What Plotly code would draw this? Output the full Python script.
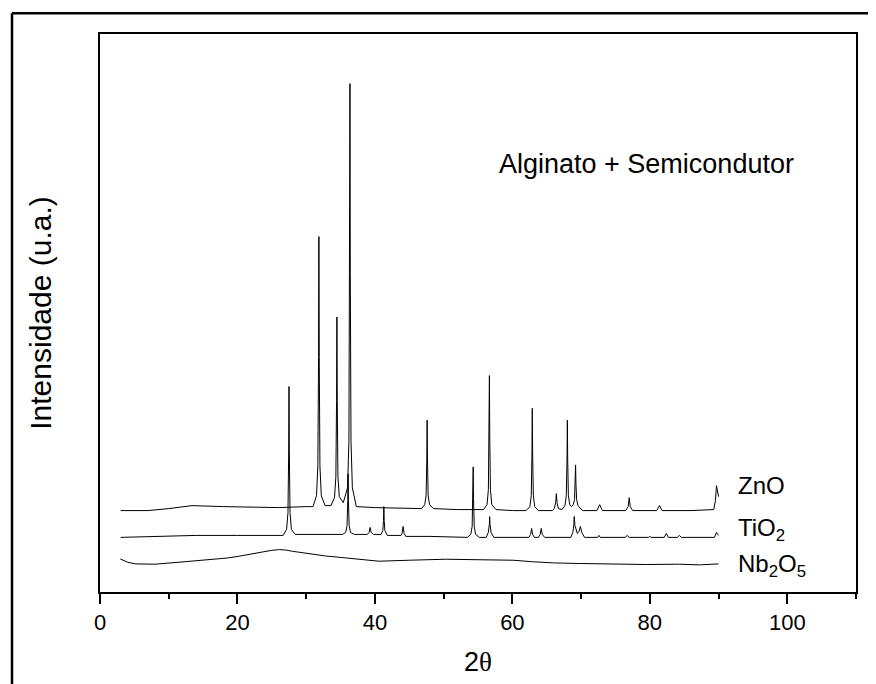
import plotly.graph_objects as go

# 2-theta (degrees) and intensity (arbitrary units)
zno_x = [3.0, 7.0, 10.0, 13.4, 18.0, 26.0, 30.0,
         31.0, 31.5, 31.7, 31.8, 31.85, 31.9, 32.0, 32.2, 32.75,
         33.6, 34.12, 34.32, 34.42, 34.47, 34.52, 34.62, 34.82, 35.4,
         36.02, 36.22, 36.32, 36.37, 36.42, 36.52, 36.72, 37.3,
         40.0, 45.0, 46.8,
         47.25, 47.45, 47.55, 47.6, 47.65, 47.75, 47.95, 48.5,
         52.0, 55.8,
         56.31, 56.51, 56.61, 56.66, 56.71, 56.81, 57.01, 57.6,
         60.0, 62.0,
         62.55, 62.75, 62.85, 62.9, 62.95, 63.05, 63.25, 63.8,
         65.8, 66.1, 66.3, 66.4, 66.5, 66.7, 67.2,
         67.65, 67.85, 67.95, 68.0, 68.05, 68.15, 68.35, 68.6,
         68.85, 69.05, 69.15, 69.2, 69.25, 69.35, 69.55, 70.2,
         72.3, 72.7, 73.1,
         76.5, 76.85, 77.0, 77.15, 77.5,
         81.0, 81.4, 81.8,
         86.0, 89.3, 89.55, 89.7, 89.85, 90.0]
zno_y = [82, 82, 84, 87, 86, 85, 86,
         86, 97, 127, 236, 358, 236, 127, 97, 87,
         87, 95, 116, 192, 277, 192, 116, 96, 90,
         105, 152, 321, 512, 321, 152, 105, 86,
         85, 84, 84,
         88, 97, 133, 173, 133, 97, 88, 84,
         83, 83,
         88, 103, 157, 218, 157, 103, 88, 83,
         82, 82,
         86, 97, 139, 185, 139, 97, 86, 82,
         82, 84, 90, 99, 90, 84, 83,
         87, 97, 133, 173, 133, 97, 88, 86,
         88, 93, 109, 128, 109, 93, 87, 82,
         82, 88, 82,
         82, 86, 95, 86, 82,
         82, 87, 82,
         82, 83, 92, 107, 100, 96]

tio2_x = [3.0, 8.0, 14.0, 20.0, 26.0,
          26.65, 27.15, 27.35, 27.45, 27.5, 27.55, 27.65, 27.85, 28.4,
          32.0, 35.3,
          35.75, 35.95, 36.05, 36.1, 36.15, 36.25, 36.45, 37.0,
          38.9, 39.15, 39.3, 39.45, 39.8,
          40.9, 41.15, 41.25, 41.3, 41.35, 41.45, 41.8,
          43.8, 43.95, 44.1, 44.25, 44.5,
          48.0, 53.45,
          53.95, 54.15, 54.25, 54.3, 54.35, 54.45, 54.65, 55.2,
          56.2, 56.5, 56.65, 56.7, 56.75, 56.9, 57.3,
          62.4, 62.65, 62.8, 62.95, 63.2,
          63.8, 64.05, 64.2, 64.35, 64.7,
          68.5, 68.8, 68.95, 69.0, 69.1, 69.45, 69.7, 69.9, 70.1, 70.5,
          72.4, 72.6, 72.8,
          76.4, 76.7, 77.0,
          79.8, 80.0, 80.2,
          82.1, 82.4, 82.7,
          84.0, 84.3, 84.6,
          89.4, 89.7, 90.0]
tio2_y = [55, 56, 57, 57, 57,
          57, 63, 80, 140, 207, 140, 80, 63, 58,
          58, 58,
          60, 67, 92, 119, 92, 67, 60, 58,
          58, 60, 65, 60, 58,
          58, 62, 72, 86, 72, 62, 57,
          57, 59, 66, 59, 56,
          56, 55,
          58, 66, 94, 126, 94, 66, 58, 55,
          55, 60, 68, 76, 68, 60, 55,
          55, 58, 64, 58, 55,
          55, 58, 64, 58, 55,
          55, 60, 68, 76, 67, 59, 61, 66, 60, 55,
          55, 57, 55,
          55, 57, 55,
          55, 56, 55,
          55, 59, 55,
          55, 57, 55,
          55, 60, 57]

nb2o5_x = [2.96, 4.0, 5.2, 8.0, 11.5, 14.0, 16.4, 18.5, 20.2, 22.0, 23.6,
           25.0, 26.1, 27.0, 28.0, 29.5, 30.9, 32.8, 34.8, 36.8, 38.7,
           40.6, 45.0, 50.3, 55.0, 60.1, 62.9, 66.0, 69.8, 75.1, 79.5,
           84.3, 87.2, 90.0]
nb2o5_y = [33.3, 30.0, 28.3, 28.0, 30.0, 31.3, 32.7, 34.2, 36.0, 38.5, 40.7,
           42.0, 42.7, 42.3, 41.0, 39.3, 37.7, 36.3, 35.0, 33.5, 32.0,
           31.0, 32.0, 33.0, 32.5, 32.0, 30.5, 29.3, 28.7, 28.0, 27.7,
           28.0, 27.3, 28.3]

series_names = ["ZnO", "TiO<sub>2</sub>", "Nb<sub>2</sub>O<sub>5</sub>"]
label_y = [107, 63, 27]
x_ticks = [0, 20, 40, 60, 80, 100]

FONT = "Arial, Liberation Sans, sans-serif"

# the page body has an 8px margin; figure is sized to compensate
W, H = 868, 676
ML, MR, MT, MB = 92, 20, 26, 88
PW, PH = W - ML - MR, H - MT - MB

fig = go.Figure()
for xs, ys in [(zno_x, zno_y), (tio2_x, tio2_y), (nb2o5_x, nb2o5_y)]:
    fig.add_trace(go.Scatter(x=xs, y=ys, mode="lines",
                             line=dict(color="black", width=1),
                             showlegend=False, hoverinfo="skip"))

for name, yv in zip(series_names, label_y):
    fig.add_annotation(x=92.6, y=yv, xref="x", yref="y", text=name,
                       showarrow=False, xanchor="left", yanchor="middle",
                       font=dict(family=FONT, size=24, color="black"))

fig.add_annotation(x=57.8, y=431, xref="x", yref="y",
                   text="Alginato + Semicondutor", showarrow=False,
                   xanchor="left", yanchor="middle",
                   font=dict(family=FONT, size=27, color="black"))

# outer frame (top and left edges visible in the picture)
fx = (4 - ML) / PW
fy = 1 + (MT - 5) / PH
fig.add_shape(type="line", xref="paper", yref="paper",
              x0=fx, x1=1.2, y0=fy, y1=fy,
              line=dict(color="black", width=2.5))
fig.add_shape(type="line", xref="paper", yref="paper",
              x0=fx, x1=fx, y0=fy, y1=-0.3,
              line=dict(color="black", width=2.5))

fig.update_layout(
    width=W, height=H,
    margin=dict(l=ML, r=MR, t=MT, b=MB),
    paper_bgcolor="white", plot_bgcolor="white",
    font=dict(family=FONT, color="black"),
)
fig.update_xaxes(
    range=[0, 110], tickvals=x_ticks, ticks="outside", ticklen=10,
    tickwidth=1.5, tickcolor="black", showline=True, linecolor="black",
    linewidth=1.5, mirror=True, showgrid=False, zeroline=False,
    tickfont=dict(family=FONT, size=22),
    minor=dict(tickvals=[10, 30, 50, 70, 90, 110], ticks="outside",
               ticklen=5, tickwidth=1.5, tickcolor="black", showgrid=False),
    title=dict(text="2<span style='font-family:Liberation Serif, Times New Roman, serif'>θ</span>",
               font=dict(family=FONT, size=27), standoff=18),
)
fig.update_yaxes(
    range=[0, 562], showticklabels=False, ticks="", showline=True,
    linecolor="black", linewidth=1.5, mirror=True, showgrid=False,
    zeroline=False,
    title=dict(text="Intensidade (u.a.)", font=dict(family=FONT, size=30),
               standoff=38),
)

fig.write_html("out.html")
